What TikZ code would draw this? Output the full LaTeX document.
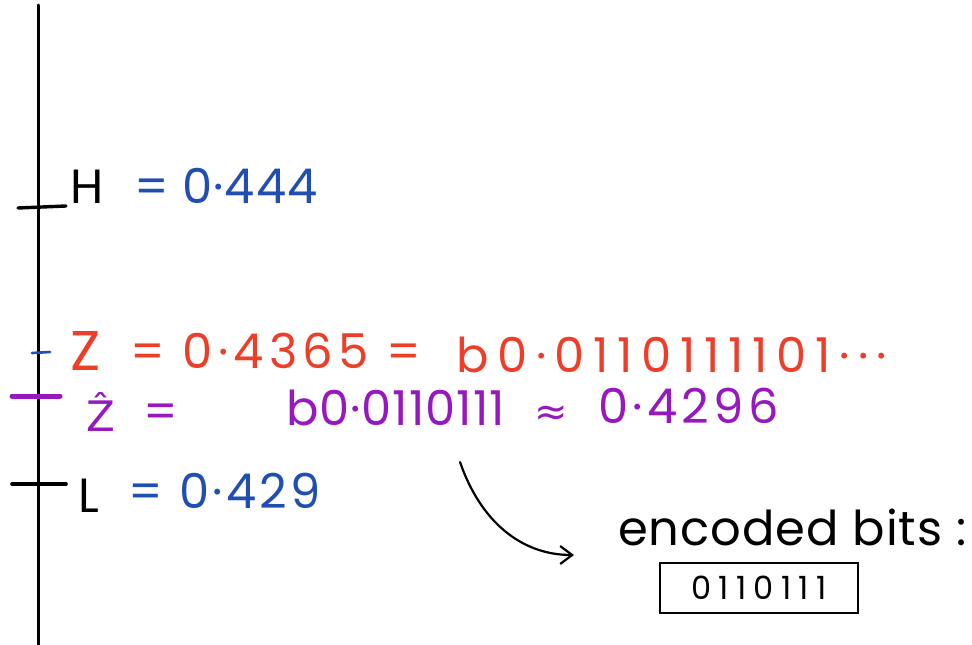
\documentclass[tikz,border=0pt]{standalone}
\usepackage{fontspec}
\setmainfont{Poppins}
\newfontfamily\dvfont{DejaVu Sans}
\usetikzlibrary{arrows.meta}
\definecolor{inkblue}{RGB}{32,78,178}
\definecolor{inkred}{RGB}{236,62,40}
\definecolor{inkpurple}{RGB}{150,24,190}
\newcommand{\lsp}[1]{\addfontfeature{LetterSpace=#1}}
\begin{document}
\begin{tikzpicture}[x=1pt,y=-1pt,
  ink/.style={line width=3pt,line cap=round},
  txt/.style={inner sep=0pt,anchor=base west,font=\fontsize{48}{52}\selectfont}]
\useasboundingbox (0,0) rectangle (972,645);
% axis
\coordinate (axtop) at (38,5);
\coordinate (axbot) at (38,645);
\draw[ink] (axtop) -- (axbot);
% ticks
\coordinate (hA) at (18,208); \coordinate (hB) at (66,206);
\draw[ink,line width=3.4pt] (hA) -- (hB);
\coordinate (zA) at (32,353); \coordinate (zB) at (50,352);
\draw[ink,inkblue,line width=2.6pt] (zA) -- (zB);
\coordinate (zhA) at (12,396); \coordinate (zhB) at (60,396);
\draw[ink,inkpurple,line width=5pt] (zhA) -- (zhB);
\coordinate (lA) at (12,484); \coordinate (lB) at (66,484);
\draw[ink,line width=3.6pt] (lA) -- (lB);
% H line
\node[txt] (H) at (70,203) {H};
\node[txt,text=inkblue] (Hval) at (134,203) {\lsp{2}= 0·444};
% Z line
\node[txt,text=inkred,font=\fontsize{56}{60}\selectfont] (Z) at (70,370) {Z};
\node[txt,text=inkred] (Zval) at (130,368) {\lsp{11}= 0·4365 =};
\node[txt,text=inkred] (Zbin) at (456,372) {\lsp{18}b0·0110111101···};
% Zhat line
\node[txt,text=inkpurple,font=\dvfont\fontsize{42}{46}\selectfont] (Zh) at (86,431) {Ẑ};
\node[txt,text=inkpurple] (Zheq) at (143,428) {=};
\node[txt,text=inkpurple] (Zhbin) at (286,425) {\lsp{2}b0·0110111};
\node[txt,text=inkpurple,font=\dvfont\fontsize{40}{44}\selectfont] (Zhapx) at (534,425) {≈};
\node[txt,text=inkpurple] (Zhval) at (598,423) {\lsp{9}0·4296};
% L line
\node[txt] (L) at (78,512) {L};
\node[txt,text=inkblue] (Lval) at (128,508) {\lsp{7}= 0·429};
% encoded bits
\node[txt] (enc) at (618,545) {\lsp{2}encoded bits :};
\node[draw,line width=2.6pt,minimum width=198pt,minimum height=50pt,inner sep=0pt,
      font=\fontsize{32}{36}\selectfont] (box) at (759,588) {\lsp{23}0110111};
\coordinate (arrS) at (460,462);
\coordinate (arrE) at (574,555);
\draw[ink,line width=2.2pt,-{Straight Barb[length=12pt,width=18pt,line width=2.2pt]}]
  (arrS) .. controls (480,520) and (520,555) .. (arrE);
\end{tikzpicture}
\end{document}
